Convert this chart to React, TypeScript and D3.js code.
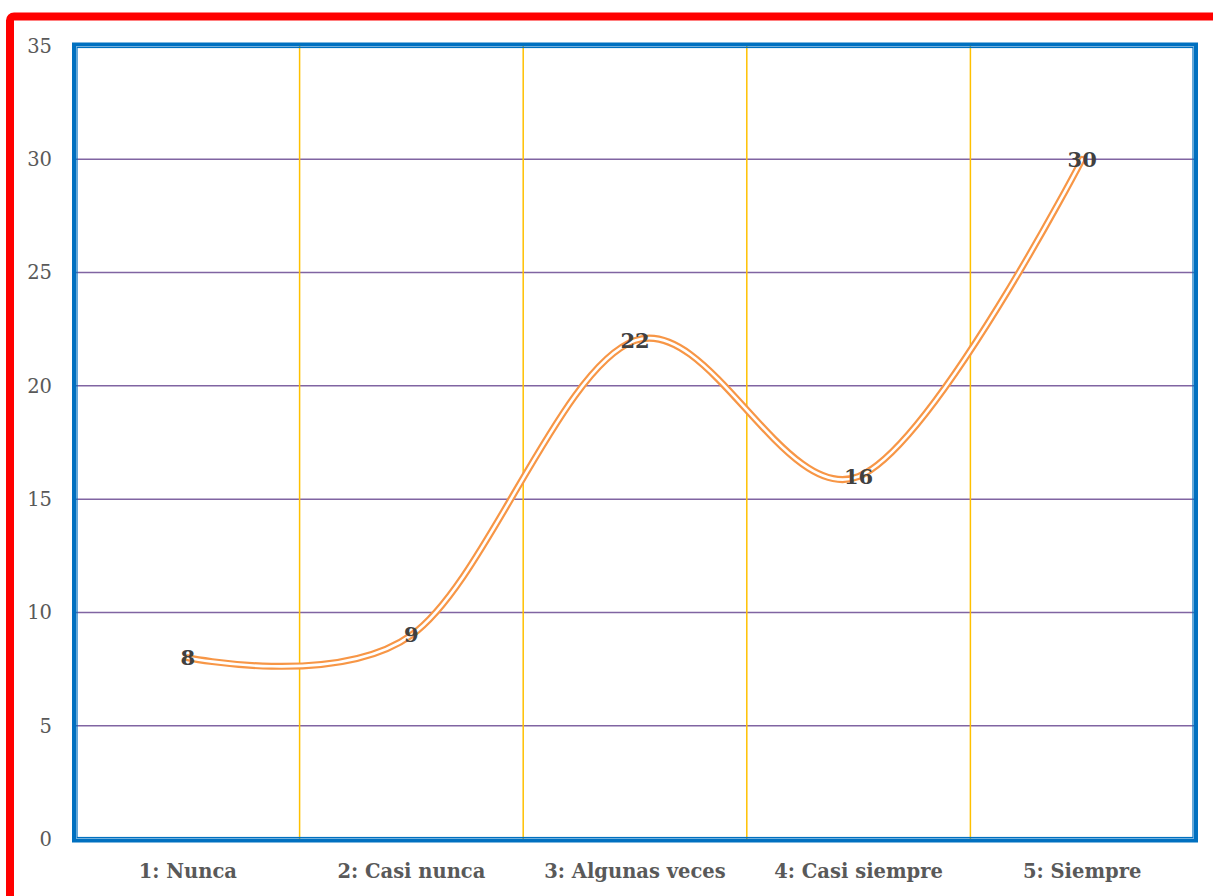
import React from "react";
import * as d3 from "d3";

const categories = ["1: Nunca", "2: Casi nunca", "3: Algunas veces", "4: Casi siempre", "5: Siempre"];
const values = [8, 9, 22, 16, 30];
const yTicks = [0, 5, 10, 15, 20, 25, 30, 35];

const W = 1213;
const H = 896;
const plot = { left: 76, right: 1194, top: 46, bottom: 839 };

export default function App() {
  const x = d3
    .scaleBand<string>()
    .domain(categories)
    .range([plot.left, plot.right])
    .paddingInner(0)
    .paddingOuter(0);
  const y = d3.scaleLinear().domain([0, 35]).range([plot.bottom, plot.top]);
  const cx = (c: string) => (x(c) as number) + x.bandwidth() / 2;

  const line = d3
    .line<number>()
    .x((_, i) => cx(categories[i]))
    .y((d) => y(d))
    .curve(d3.curveCardinal.tension(0));
  const path = line(values) || "";

  const serif = "'DejaVu Serif', 'Liberation Serif', serif";

  return (
    <svg
      width={W}
      height={H}
      style={{ position: "absolute", left: 0, top: 0, background: "#fff" }}
      xmlns="http://www.w3.org/2000/svg"
    >
      {/* outer chart border */}
      <rect x={10} y={16.5} width={W + 40} height={H + 40} rx={4} fill="#fff" stroke="#FF0000" strokeWidth={8} />

      {/* horizontal gridlines */}
      {yTicks.slice(1, -1).map((t) => (
        <line key={t} x1={plot.left} x2={plot.right} y1={y(t)} y2={y(t)} stroke="#8064A2" strokeWidth={1.5} />
      ))}
      {/* vertical category dividers */}
      {categories.slice(1).map((c) => (
        <line
          key={c}
          x1={x(c) as number}
          x2={x(c) as number}
          y1={plot.top}
          y2={plot.bottom}
          stroke="#FFC000"
          strokeWidth={1.5}
        />
      ))}

      {/* plot area double border */}
      <rect
        x={plot.left - 2}
        y={plot.top - 1.5}
        width={plot.right - plot.left + 4}
        height={plot.bottom - plot.top + 3}
        fill="none"
        stroke="#0070C0"
        strokeWidth={4}
      />
      <rect
        x={plot.left + 1}
        y={plot.top + 1.5}
        width={plot.right - plot.left - 2}
        height={plot.bottom - plot.top - 3}
        fill="none"
        stroke="#0070C0"
        strokeWidth={1.2}
      />

      {/* y tick labels */}
      {yTicks.map((t) => (
        <text
          key={t}
          x={52}
          y={y(t)}
          dy="0.35em"
          textAnchor="end"
          fontFamily={serif}
          fontSize={19.5}
          fill="#595959"
        >
          {t}
        </text>
      ))}

      {/* category labels */}
      {categories.map((c) => (
        <text
          key={c}
          x={cx(c)}
          y={871}
          dy="0.35em"
          textAnchor="middle"
          fontFamily={serif}
          fontWeight="bold"
          fontSize={19.5}
          fill="#595959"
        >
          {c}
        </text>
      ))}

      {/* compound line */}
      <path d={path} fill="none" stroke="#F79646" strokeWidth={7} strokeLinecap="round" />
      <path d={path} fill="none" stroke="#fff" strokeWidth={2.6} strokeLinecap="round" />

      {/* data labels */}
      {values.map((v, i) => (
        <text
          key={i}
          x={cx(categories[i])}
          y={y(v)}
          dy="0.35em"
          textAnchor="middle"
          fontFamily={serif}
          fontWeight="bold"
          fontSize={21}
          fill="#404040"
        >
          {v}
        </text>
      ))}
    </svg>
  );
}
